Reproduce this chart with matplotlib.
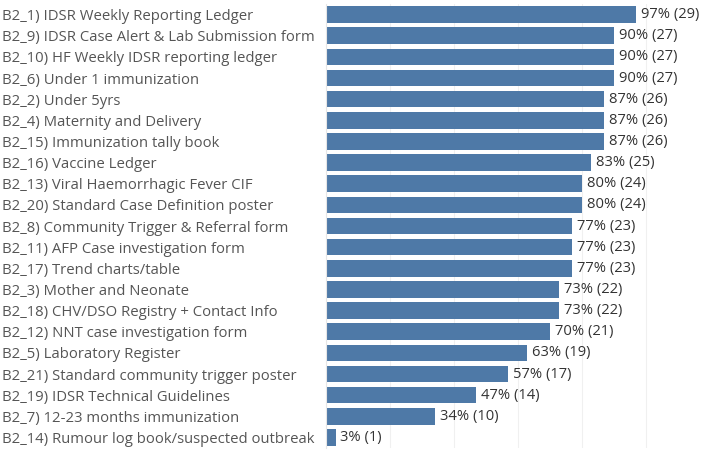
import matplotlib.pyplot as plt
from matplotlib.ticker import MultipleLocator

# ---------------------------
# Datos
# ---------------------------
labels = [
    "B2_1) IDSR Weekly Reporting Ledger",
    "B2_9) IDSR Case Alert & Lab Submission form",
    "B2_10) HF Weekly IDSR reporting ledger",
    "B2_6) Under 1 immunization",
    "B2_2) Under 5yrs",
    "B2_4) Maternity and Delivery",
    "B2_15) Immunization tally book",
    "B2_16) Vaccine Ledger",
    "B2_13) Viral Haemorrhagic Fever CIF",
    "B2_20) Standard Case Definition poster",
    "B2_8) Community Trigger & Referral form",
    "B2_11) AFP Case investigation form",
    "B2_17) Trend charts/table",
    "B2_3) Mother and Neonate",
    "B2_18) CHV/DSO Registry + Contact Info",
    "B2_12) NNT case investigation form",
    "B2_5) Laboratory Register",
    "B2_21) Standard community trigger poster",
    "B2_19) IDSR Technical Guidelines",
    "B2_7) 12-23 months immunization",
    "B2_14) Rumour log book/suspected outbreak",
]
percents = [97, 90, 90, 90, 87, 87, 87, 83, 80, 80, 77, 77, 77, 73, 73, 70, 63, 57, 47, 34, 3]
counts = [29, 27, 27, 27, 26, 26, 26, 25, 24, 24, 23, 23, 23, 22, 22, 21, 19, 17, 14, 10, 1]

# ---------------------------
# Figura
# ---------------------------
plt.rcParams["font.family"] = ["Open Sans", "DejaVu Sans"]

fig = plt.figure(figsize=(7.08, 4.61), dpi=100)
ax_left = 326
ax = fig.add_axes([ax_left / 708, 13 / 461, (652 - ax_left) / 708, 444 / 461])

y = list(range(len(labels)))
ax.barh(y, percents, height=0.78, color="#4e79a7", zorder=2)

for yi, p, c in zip(y, percents, counts):
    ax.annotate(f"{p}% ({c})", xy=(p, yi), xytext=(3.5, 0),
                textcoords="offset points", va="center", ha="left",
                fontsize=10.6, color="#333333", zorder=3)

ax.set_yticks(y)
ax.set_yticklabels(labels, fontsize=10.7, color="#555555")
for t in ax.get_yticklabels():
    t.set_ha("left")
# etiquetas alineadas a la izquierda desde el borde de la figura
ax.tick_params(axis="y", length=0, pad=(ax_left - 2) * 0.72)
ax.set_ylim(len(labels) - 0.5, -0.5)
ax.set_xlim(0, 102)
ax.xaxis.set_major_locator(MultipleLocator(20))
ax.set_xticklabels([])
ax.tick_params(axis="x", length=0)
ax.grid(axis="x", color="#f0f0f0", linewidth=0.8, zorder=0)

for s in ["top", "right", "bottom"]:
    ax.spines[s].set_visible(False)
ax.spines["left"].set_color("#e6e6e6")

fig.savefig("out.png", dpi=100)
